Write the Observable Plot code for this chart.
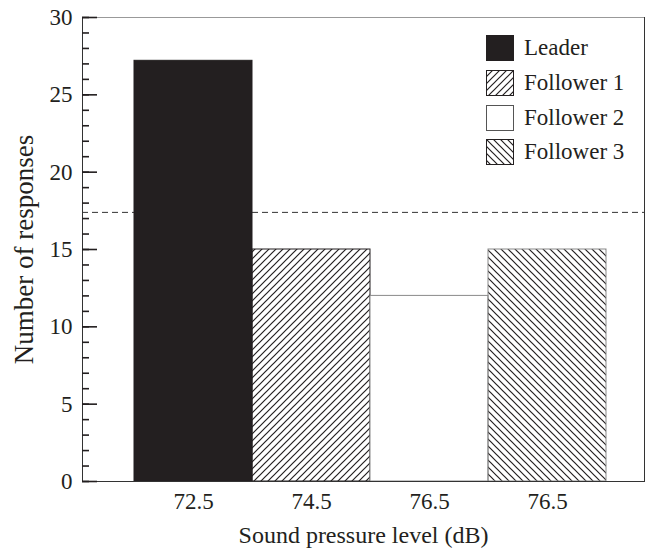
<!DOCTYPE html>
<html>
<head>
<meta charset="utf-8">
<script src="https://cdn.jsdelivr.net/npm/d3@7"></script>
<script src="https://cdn.jsdelivr.net/npm/@observablehq/plot@0.6"></script>
<style>
  html, body { margin: 0; padding: 0; background: #fff; }
  #wrap { position: relative; width: 646px; height: 549px; font-family: "Liberation Serif", "Times New Roman", "DejaVu Serif", serif; color: #231f20; }
  #legend { position: absolute; left: 486px; top: 31px; }
  .row { display: flex; align-items: center; height: 34.7px; font-size: 23px; }
  .row svg { display: block; margin-right: 10px; }
</style>
</head>
<body>
<svg width="0" height="0" style="position:absolute">
  <defs>
    <pattern id="hatchUp" patternUnits="userSpaceOnUse" width="7" height="7">
      <path d="M-1,1 l2,-2 M0,7 l7,-7 M6,8 l2,-2" stroke="#231f20" stroke-width="1.2"/>
    </pattern>
    <pattern id="hatchDown" patternUnits="userSpaceOnUse" width="7" height="7">
      <path d="M-1,6 l2,2 M0,0 l7,7 M6,-1 l2,2" stroke="#231f20" stroke-width="1.2"/>
    </pattern>
  </defs>
</svg>
<div id="wrap"><div id="chart"></div><div id="legend"></div></div>
<script>
const keys = ["Leader", "Follower 1", "Follower 2", "Follower 3"];
const levels = ["72.5", "74.5", "76.5", "76.5"];
const counts = [27.2, 15, 12, 15];
const reference = 17.4;
const majorTicks = [0, 5, 10, 15, 20, 25, 30];
const minorTicks = d3.range(0, 31, 1);
const fills = ["#231f20", "url(#hatchUp)", "#ffffff", "url(#hatchDown)"];
const strokes = ["#231f20", "#231f20", "#8a8a8a", "#8a8a8a"];

const W = 646, H = 549, ML = 82, MR = 2, MT = 17, MB = 68;
const innerW = W - ML - MR;

const data = keys.map((k, i) => ({key: k, level: levels[i], count: counts[i], fill: fills[i], stroke: strokes[i]}));

const barMarks = data.map(d => Plot.barY([d], {x: "key", y: "count", fill: d.fill, stroke: d.stroke, strokeWidth: 1}));

const chart = Plot.plot({
  width: W,
  height: H,
  marginTop: MT,
  marginBottom: MB,
  marginLeft: ML,
  marginRight: MR,
  style: {fontFamily: "Liberation Serif, Times New Roman, DejaVu Serif, serif", fontSize: "23px", color: "#231f20", background: "#fff"},
  x: {domain: keys, range: [133, 606], padding: 0},
  y: {domain: [0, 30]},
  marks: [
    Plot.ruleY([reference], {stroke: "#333", strokeDasharray: "6,4", strokeWidth: 1}),
    ...barMarks,
    Plot.frame({stroke: "#333"}),
    Plot.ruleY([30], {stroke: "#999"}),
    Plot.tickY(minorTicks, {y: d => d, insetRight: innerW - 7, stroke: "#231f20", strokeWidth: 1.6}),
    Plot.tickY(majorTicks, {y: d => d, insetRight: innerW - 15, stroke: "#231f20", strokeWidth: 1.6}),
    Plot.axisY(majorTicks, {tickSize: 0, tickPadding: 10, fontSize: 23, label: null}),
    Plot.axisY({tickSize: 0, text: null, fontSize: 27, label: "Number of responses", labelAnchor: "center", labelOffset: 69, labelArrow: "none"}),
    Plot.axisX({tickSize: 0, tickPadding: 11, fontSize: 23, tickFormat: k => levels[keys.indexOf(k)], label: null}),
    Plot.axisX({tickSize: 0, text: null, fontSize: 24, label: "Sound pressure level (dB)", labelAnchor: "center", labelOffset: 61, labelArrow: "none"})
  ]
});
document.getElementById("chart").appendChild(chart);

const legend = d3.select("#legend");
data.forEach(d => {
  const row = legend.append("div").attr("class", "row");
  const s = row.append("svg").attr("width", 28).attr("height", 26);
  s.append("rect").attr("x", 0.5).attr("y", 0.5).attr("width", 27).attr("height", 25)
    .attr("fill", d.fill).attr("stroke", d.key === "Follower 2" ? "#555" : "#231f20");
  row.append("span").text(d.key);
});
</script>
</body>
</html>
